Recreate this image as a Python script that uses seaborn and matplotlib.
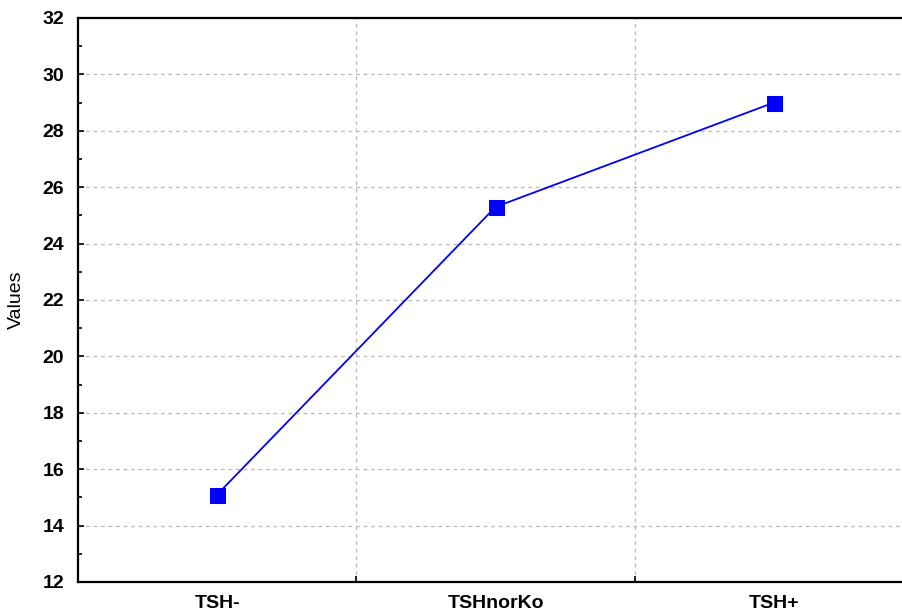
import matplotlib
matplotlib.use("Agg")
import matplotlib.pyplot as plt
from matplotlib.ticker import MultipleLocator, FixedLocator
import seaborn as sns
import pandas as pd

groups = ["TSH-", "TSHnorKo", "TSH+"]
values = [15.1, 25.3, 29.0]

sns.set_style("white", {"xtick.bottom": True, "ytick.left": True})
plt.rcParams["font.family"] = ["Liberation Sans", "DejaVu Sans"]
plt.rcParams["text.color"] = "black"
plt.rcParams["axes.labelcolor"] = "black"
plt.rcParams["xtick.color"] = "black"
plt.rcParams["ytick.color"] = "black"

df = pd.DataFrame({"group": groups, "value": values})

fig = plt.figure(figsize=(9.02, 6.15), dpi=100)
ax = fig.add_axes([78 / 902, 33 / 615, (913 - 78) / 902, (582 - 18) / 615])

sns.lineplot(data=df, x="group", y="value", ax=ax, color="#0000ff",
             linewidth=1.3, marker="s", markersize=10.8,
             markeredgecolor="#0000ff", markerfacecolor="#0000ff")

ax.set_xlim(-0.5, 2.5)
ax.set_ylim(12, 32)
ax.yaxis.set_major_locator(MultipleLocator(2))
ax.yaxis.set_minor_locator(MultipleLocator(1))
ax.xaxis.set_minor_locator(FixedLocator([0.5, 1.5]))

ax.grid(True, which="major", axis="y", color="#b8b8b8", linestyle=(0, (3, 3)), linewidth=0.9)
ax.grid(True, which="minor", axis="x", color="#b8b8b8", linestyle=(0, (3, 3)), linewidth=0.9)
ax.grid(False, which="major", axis="x")

ax.tick_params(axis="y", which="major", direction="in", length=4, width=1.2,
               labelsize=14, pad=10, colors="black")
ax.tick_params(axis="y", which="minor", direction="in", length=3, width=1.2,
               left=True, colors="black")
ax.tick_params(axis="x", which="major", length=0, labelsize=14, pad=9, colors="black")
ax.tick_params(axis="x", which="minor", direction="in", length=4, width=1.2,
               bottom=True, colors="black")
for lbl in ax.get_xticklabels() + ax.get_yticklabels():
    lbl.set_fontweight("bold")

for side in ["left", "bottom", "top", "right"]:
    ax.spines[side].set_visible(True)
    ax.spines[side].set_color("black")
    ax.spines[side].set_linewidth(1.6)

ax.set_xlabel("")
ax.set_ylabel("Values", fontsize=14, color="black")
ax.yaxis.set_label_coords((25 - 78) / 835, 0.5)

fig.savefig("out.png", dpi=100)
